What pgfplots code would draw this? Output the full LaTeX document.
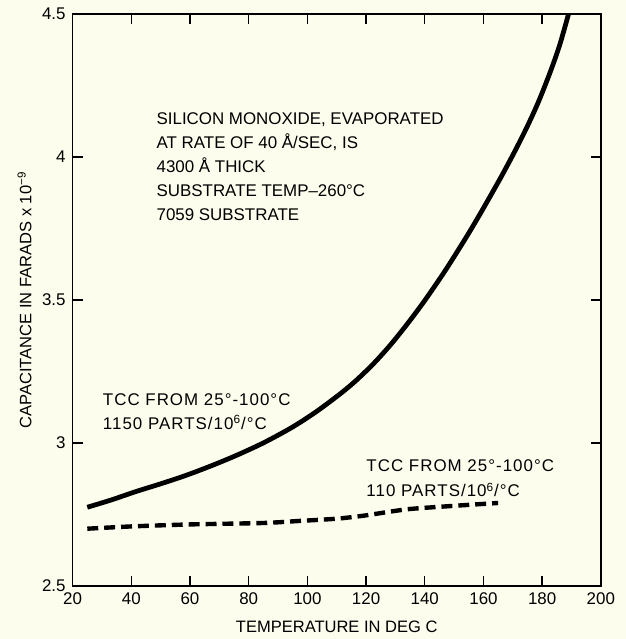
\documentclass[border=0pt]{standalone}
\usepackage{fontspec}
\setmainfont{Liberation Sans}
\usepackage{pgfplots}
\pgfplotsset{compat=1.18}
\usetikzlibrary{backgrounds}
\definecolor{paper}{RGB}{252,253,237}
\begin{document}
\begin{tikzpicture}[inner frame sep=0pt, background rectangle/.style={fill=paper}, show background rectangle]
\begin{axis}[
  scale only axis, width=265.5pt, height=287.5pt,
  xmin=20, xmax=200, ymin=2.5, ymax=4.5,
  xtick={20,40,...,200},
  ytick={2.5,3,3.5,4,4.5},
  yticklabels={2.5,3,3.5,4,4.5},
  tick align=inside, major tick length=5pt,
  axis line style={line width=0.8pt},
  tick style={line width=0.7pt, black},
  /pgf/number format/assume math mode=true,
  ticklabel style={font=\fontsize{8.5}{10}\selectfont},
  label style={font=\fontsize{8.3}{10}\selectfont},
  xlabel={TEMPERATURE IN DEG C},
  ylabel={CAPACITANCE IN FARADS x 10\textsuperscript{−9}},
  xlabel style={at={(axis description cs:0.5,-0.071)}, anchor=center},
  ylabel style={at={(axis description cs:-0.091,0.5)}, anchor=center},
  clip=false,
]
\addplot[black, line width=2.4pt, smooth, tension=0.5] coordinates {
(25,2.775) (33,2.800) (41.6,2.830) (50,2.857) (58.5,2.886) (67,2.919) (75.5,2.955) (85,3.000) (94.7,3.054) (103,3.109) (111.6,3.175) (117,3.222) (122.9,3.281) (128.5,3.345) (134.2,3.418) (140,3.498) (147,3.603) (154.6,3.727) (160,3.821) (165.9,3.928) (170.5,4.016) (174.9,4.106) (178.8,4.194) (182.8,4.298) (186,4.392) (189,4.5)
};
\addplot[black, line width=2.2pt, dash pattern=on 5.5pt off 3pt, smooth, tension=0.4] coordinates {
(25,2.700) (40,2.708) (60,2.715) (85,2.720) (97,2.727) (110,2.735) (119.5,2.746) (134,2.768) (150,2.780) (165,2.790)
};
\node[anchor=north west, inner sep=0pt, align=left, font=\fontsize{8.5}{12}\selectfont] at (axis cs:48.5,4.156)
{SILICON MONOXIDE, EVAPORATED\\AT RATE OF 40 Å/SEC, IS\\4300 Å THICK\\SUBSTRATE TEMP–260°C\\7059 SUBSTRATE};
\node[anchor=north west, inner sep=0pt, align=left, font=\fontsize{8.5}{12}\selectfont\addfontfeatures{LetterSpace=6}] at (axis cs:30.2,3.174)
{TCC FROM 25°-100°C\\1150 PARTS/10\textsuperscript{6}/°C};
\node[anchor=north west, inner sep=0pt, align=left, font=\fontsize{8.5}{12.5}\selectfont\addfontfeatures{LetterSpace=6}] at (axis cs:120,2.941)
{TCC FROM 25°-100°C\\110 PARTS/10\textsuperscript{6}/°C};
\path (rel axis cs:0,0) ++(-36.5pt,-25pt) rectangle ++(314.5pt,319.5pt);
\end{axis}
\end{tikzpicture}
\end{document}
